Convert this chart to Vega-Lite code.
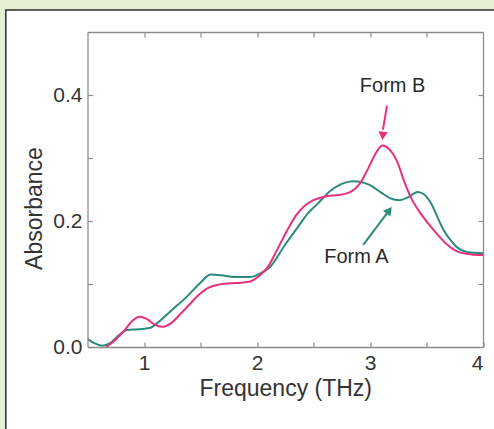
{
  "$schema": "https://vega.github.io/schema/vega-lite/v6.json",
  "width": 395.5,
  "height": 315,
  "autosize": "none",
  "padding": {"left": 87.5, "top": 32, "right": 11, "bottom": 82},
  "background": "#ffffff",
  "config": {
    "view": {"stroke": null},
    "font": "Liberation Sans",
    "axis": {
      "domainColor": "#8c8c8c",
      "domainWidth": 1.3,
      "tickColor": "#8c8c8c",
      "tickWidth": 1.2,
      "tickSize": -5,
      "grid": false,
      "labelFont": "Liberation Sans",
      "labelFontSize": 21,
      "labelColor": "#333333",
      "titleFont": "Liberation Sans",
      "titleFontSize": 23,
      "titleFontWeight": "normal",
      "titleColor": "#333333"
    }
  },
  "datasets": {
    "spectra": [
      {"series": "Form A", "freq": 0.50, "abs": 0.013},
      {"series": "Form A", "freq": 0.56, "abs": 0.006},
      {"series": "Form A", "freq": 0.63, "abs": 0.002},
      {"series": "Form A", "freq": 0.70, "abs": 0.006},
      {"series": "Form A", "freq": 0.78, "abs": 0.019},
      {"series": "Form A", "freq": 0.85, "abs": 0.027},
      {"series": "Form A", "freq": 0.95, "abs": 0.028},
      {"series": "Form A", "freq": 1.05, "abs": 0.030},
      {"series": "Form A", "freq": 1.15, "abs": 0.043},
      {"series": "Form A", "freq": 1.25, "abs": 0.059},
      {"series": "Form A", "freq": 1.38, "abs": 0.080},
      {"series": "Form A", "freq": 1.50, "abs": 0.102},
      {"series": "Form A", "freq": 1.59, "abs": 0.115},
      {"series": "Form A", "freq": 1.68, "abs": 0.114},
      {"series": "Form A", "freq": 1.80, "abs": 0.111},
      {"series": "Form A", "freq": 1.94, "abs": 0.111},
      {"series": "Form A", "freq": 2.02, "abs": 0.116},
      {"series": "Form A", "freq": 2.12, "abs": 0.128},
      {"series": "Form A", "freq": 2.24, "abs": 0.160},
      {"series": "Form A", "freq": 2.36, "abs": 0.190},
      {"series": "Form A", "freq": 2.45, "abs": 0.212},
      {"series": "Form A", "freq": 2.54, "abs": 0.228},
      {"series": "Form A", "freq": 2.65, "abs": 0.248},
      {"series": "Form A", "freq": 2.75, "abs": 0.259},
      {"series": "Form A", "freq": 2.85, "abs": 0.263},
      {"series": "Form A", "freq": 2.92, "abs": 0.262},
      {"series": "Form A", "freq": 3.00, "abs": 0.257},
      {"series": "Form A", "freq": 3.10, "abs": 0.245},
      {"series": "Form A", "freq": 3.18, "abs": 0.236},
      {"series": "Form A", "freq": 3.26, "abs": 0.233},
      {"series": "Form A", "freq": 3.34, "abs": 0.238},
      {"series": "Form A", "freq": 3.42, "abs": 0.246},
      {"series": "Form A", "freq": 3.48, "abs": 0.242},
      {"series": "Form A", "freq": 3.54, "abs": 0.228},
      {"series": "Form A", "freq": 3.60, "abs": 0.205},
      {"series": "Form A", "freq": 3.65, "abs": 0.186},
      {"series": "Form A", "freq": 3.72, "abs": 0.168},
      {"series": "Form A", "freq": 3.78, "abs": 0.157},
      {"series": "Form A", "freq": 3.89, "abs": 0.150},
      {"series": "Form A", "freq": 4.00, "abs": 0.149},
      {"series": "Form B", "freq": 0.58, "abs": -0.015},
      {"series": "Form B", "freq": 0.67, "abs": 0.000},
      {"series": "Form B", "freq": 0.75, "abs": 0.012},
      {"series": "Form B", "freq": 0.83, "abs": 0.027},
      {"series": "Form B", "freq": 0.90, "abs": 0.042},
      {"series": "Form B", "freq": 0.96, "abs": 0.048},
      {"series": "Form B", "freq": 1.02, "abs": 0.045},
      {"series": "Form B", "freq": 1.09, "abs": 0.036},
      {"series": "Form B", "freq": 1.16, "abs": 0.032},
      {"series": "Form B", "freq": 1.24, "abs": 0.038},
      {"series": "Form B", "freq": 1.32, "abs": 0.052},
      {"series": "Form B", "freq": 1.40, "abs": 0.067},
      {"series": "Form B", "freq": 1.48, "abs": 0.082},
      {"series": "Form B", "freq": 1.56, "abs": 0.093},
      {"series": "Form B", "freq": 1.66, "abs": 0.099},
      {"series": "Form B", "freq": 1.76, "abs": 0.101},
      {"series": "Form B", "freq": 1.86, "abs": 0.102},
      {"series": "Form B", "freq": 1.94, "abs": 0.104},
      {"series": "Form B", "freq": 2.02, "abs": 0.113},
      {"series": "Form B", "freq": 2.10, "abs": 0.128},
      {"series": "Form B", "freq": 2.18, "abs": 0.155},
      {"series": "Form B", "freq": 2.27, "abs": 0.186},
      {"series": "Form B", "freq": 2.35, "abs": 0.210},
      {"series": "Form B", "freq": 2.42, "abs": 0.224},
      {"series": "Form B", "freq": 2.50, "abs": 0.233},
      {"series": "Form B", "freq": 2.60, "abs": 0.239},
      {"series": "Form B", "freq": 2.70, "abs": 0.241},
      {"series": "Form B", "freq": 2.78, "abs": 0.243},
      {"series": "Form B", "freq": 2.86, "abs": 0.250},
      {"series": "Form B", "freq": 2.92, "abs": 0.262},
      {"series": "Form B", "freq": 2.98, "abs": 0.282},
      {"series": "Form B", "freq": 3.04, "abs": 0.304},
      {"series": "Form B", "freq": 3.11, "abs": 0.320},
      {"series": "Form B", "freq": 3.18, "abs": 0.312},
      {"series": "Form B", "freq": 3.25, "abs": 0.290},
      {"series": "Form B", "freq": 3.30, "abs": 0.264},
      {"series": "Form B", "freq": 3.36, "abs": 0.238},
      {"series": "Form B", "freq": 3.44, "abs": 0.214},
      {"series": "Form B", "freq": 3.52, "abs": 0.195},
      {"series": "Form B", "freq": 3.60, "abs": 0.178},
      {"series": "Form B", "freq": 3.68, "abs": 0.163},
      {"series": "Form B", "freq": 3.78, "abs": 0.151},
      {"series": "Form B", "freq": 3.90, "abs": 0.147},
      {"series": "Form B", "freq": 4.00, "abs": 0.146}
    ],
    "strips": [
      {"x": -0.6, "x2": -0.223, "y": 0.7, "y2": -0.4},
      {"x": -0.6, "x2": 5.0, "y": 0.7, "y2": 0.535}
    ],
    "arrows": [
      {"series": "Form B", "x": 3.15, "y": 0.383, "x2": 3.115, "y2": 0.345},
      {"series": "Form A", "x": 2.94, "y": 0.162, "x2": 3.15, "y2": 0.212}
    ],
    "heads": [
      {"series": "Form B", "x": 3.113, "y": 0.335}
    ],
    "headsA": [
      {"series": "Form A", "x": 3.17, "y": 0.217}
    ],
    "labels": [
      {"series": "Form B", "x": 3.20, "y": 0.414, "text": "Form B"},
      {"series": "Form A", "x": 2.88, "y": 0.143, "text": "Form A"}
    ]
  },
  "layer": [
    {
      "data": {"name": "strips"},
      "mark": {"type": "rect", "fill": "#e4efd4", "stroke": null, "clip": false},
      "encoding": {
        "x": {"field": "x", "type": "quantitative", "scale": {"domain": [0.5, 4], "nice": false, "zero": false}, "axis": null},
        "x2": {"field": "x2"},
        "y": {"field": "y", "type": "quantitative", "scale": {"domain": [0, 0.5], "nice": false, "zero": false}, "axis": null},
        "y2": {"field": "y2"}
      }
    },
    {
      "data": {"values": [{}]},
      "mark": {"type": "rect", "fill": null, "fillOpacity": 0, "stroke": "#2b2b2b", "strokeWidth": 1.5, "clip": false},
      "encoding": {
        "x": {"datum": -0.223, "type": "quantitative", "axis": null},
        "x2": {"datum": 4.8},
        "y": {"datum": 0.535, "type": "quantitative", "axis": null},
        "y2": {"datum": -0.3}
      }
    },
    {
      "data": {"name": "spectra"},
      "mark": {"type": "line", "interpolate": "monotone", "strokeWidth": 2, "clip": true},
      "encoding": {
        "x": {
          "field": "freq", "type": "quantitative",
          "scale": {"domain": [0.5, 4], "nice": false, "zero": false},
          "axis": {
            "orient": "bottom",
            "title": "Frequency (THz)",
            "values": [1, 1.5, 2, 2.5, 3, 3.5, 4],
            "labelExpr": "datum.value % 1 == 0 ? format(datum.value, 'd') : ''",
            "labelPadding": 10,
            "titlePadding": 4,
            "zindex": 3
          }
        },
        "y": {
          "field": "abs", "type": "quantitative",
          "scale": {"domain": [0, 0.5], "nice": false, "zero": false},
          "axis": {
            "orient": "left",
            "title": "Absorbance",
            "values": [0, 0.1, 0.2, 0.3, 0.4],
            "labelExpr": "(round(datum.value * 10) % 2 == 0) ? format(datum.value, '.1f') : ''",
            "labelPadding": 10.5,
            "titlePadding": 6,
            "titleY": 176,
            "zindex": 3
          }
        },
        "color": {
          "field": "series", "type": "nominal",
          "scale": {"domain": ["Form A", "Form B"], "range": ["#2a8a7c", "#e8307c"]},
          "legend": null
        },
        "detail": {"field": "series"}
      }
    },
    {
      "data": {"values": [{}]},
      "mark": {"type": "point", "opacity": 0},
      "encoding": {
        "x": {
          "datum": 1, "type": "quantitative",
          "scale": {"domain": [0.5, 4], "nice": false, "zero": false},
          "axis": {"orient": "top", "title": null, "labels": false, "values": [1, 1.5, 2, 2.5, 3, 3.5], "zindex": 3}
        },
        "y": {
          "datum": 0.1, "type": "quantitative",
          "scale": {"domain": [0, 0.5], "nice": false, "zero": false},
          "axis": {"orient": "right", "title": null, "labels": false, "values": [0.1, 0.2, 0.3, 0.4], "zindex": 3}
        }
      }
    },
    {
      "data": {"name": "arrows"},
      "mark": {"type": "rule", "strokeWidth": 2},
      "encoding": {
        "x": {"field": "x", "type": "quantitative", "axis": null},
        "y": {"field": "y", "type": "quantitative", "axis": null},
        "x2": {"field": "x2"},
        "y2": {"field": "y2"},
        "color": {"field": "series", "type": "nominal", "legend": null}
      }
    },
    {
      "data": {"name": "heads"},
      "mark": {"type": "point", "shape": "triangle-up", "filled": true, "opacity": 1, "size": 90, "angle": 186},
      "encoding": {
        "x": {"field": "x", "type": "quantitative", "axis": null},
        "y": {"field": "y", "type": "quantitative", "axis": null},
        "color": {"field": "series", "type": "nominal", "legend": null}
      }
    },
    {
      "data": {"name": "headsA"},
      "mark": {"type": "point", "shape": "triangle-up", "filled": true, "opacity": 1, "size": 90, "angle": 37},
      "encoding": {
        "x": {"field": "x", "type": "quantitative", "axis": null},
        "y": {"field": "y", "type": "quantitative", "axis": null},
        "color": {"field": "series", "type": "nominal", "legend": null}
      }
    },
    {
      "data": {"name": "labels"},
      "mark": {"type": "text", "fontSize": 20, "font": "Liberation Sans", "color": "#2a2a2a"},
      "encoding": {
        "x": {"field": "x", "type": "quantitative", "axis": null},
        "y": {"field": "y", "type": "quantitative", "axis": null},
        "text": {"field": "text"}
      }
    }
  ],
  "resolve": {"axis": {"x": "independent", "y": "independent"}}
}
